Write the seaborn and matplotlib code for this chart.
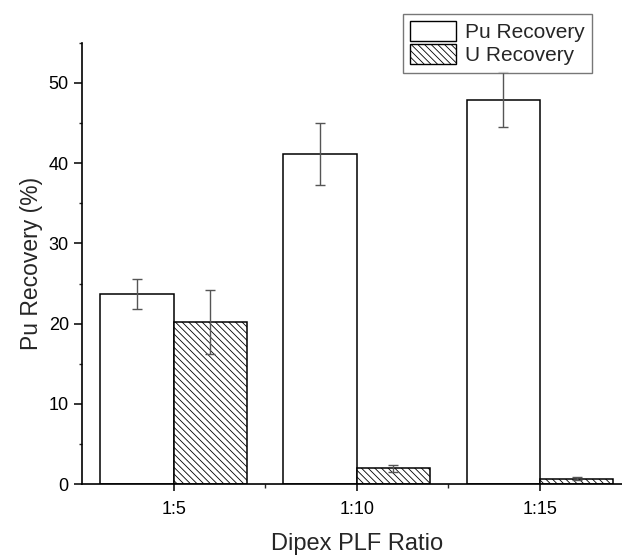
import numpy as np
import pandas as pd
import seaborn as sns
import matplotlib.pyplot as plt
from matplotlib.patches import Patch
from matplotlib.ticker import MultipleLocator, FixedLocator

# values
ratios = ["1:5", "1:10", "1:15"]
pu_recovery = [23.7, 41.1, 47.9]
pu_err = [1.85, 3.85, 3.4]
u_recovery = [20.2, 2.0, 0.7]
u_err = [4.0, 0.45, 0.2]
series = ["Pu Recovery", "U Recovery"]

df = pd.DataFrame({
    "ratio": ratios * 2,
    "value": pu_recovery + u_recovery,
    "err": pu_err + u_err,
    "series": [series[0]] * 3 + [series[1]] * 3,
})

sns.set_style("ticks")
plt.rcParams["font.family"] = ["Liberation Sans", "DejaVu Sans"]
plt.rcParams["hatch.linewidth"] = 0.6

fig = plt.figure(figsize=(6.22, 5.55), dpi=100)
ax = fig.add_axes([0.1318, 0.1274, 0.8835, 0.7957])

sns.barplot(data=df, x="ratio", y="value", hue="series", order=ratios,
            hue_order=series, palette=["white", "white"], edgecolor="black",
            linewidth=1.1, width=0.8, errorbar=None, legend=False, ax=ax)

# hatch for U bars + error bars from bar centres
for cont, s in zip(ax.containers, series):
    sub = df[df["series"] == s].set_index("ratio").loc[ratios]
    xs = []
    for bar in cont:
        xs.append(bar.get_x() + bar.get_width() / 2)
        if s == "U Recovery":
            bar.set_hatch("\\\\\\\\\\")
    ax.errorbar(xs, sub["value"], yerr=sub["err"], fmt="none",
                ecolor="#555555", elinewidth=1.0, capsize=3.3, capthick=1.0,
                zorder=5)

ax.set_xlim(-0.5, 2.5)
ax.set_ylim(0, 55)
ax.yaxis.set_major_locator(MultipleLocator(10))
ax.yaxis.set_minor_locator(MultipleLocator(5))
ax.xaxis.set_minor_locator(FixedLocator([0.5, 1.5]))

sns.despine(ax=ax)
for sp in ["left", "bottom"]:
    ax.spines[sp].set_linewidth(1.2)
    ax.spines[sp].set_color("black")

ax.tick_params(axis="y", which="major", length=5.5, width=1.1, pad=4,
               labelsize=13, colors="black")
ax.tick_params(axis="y", which="minor", length=2.5, width=1.0)
ax.tick_params(axis="x", which="major", length=5, width=1.1, pad=7,
               labelsize=13, colors="black")
ax.tick_params(axis="x", which="minor", length=3, width=1.0)

ax.set_xlabel("Dipex PLF Ratio", fontsize=17, labelpad=11)
ax.set_ylabel("Pu Recovery (%)", fontsize=16.5, labelpad=4)

handles = [Patch(facecolor="white", edgecolor="black", linewidth=1.0),
           Patch(facecolor="white", edgecolor="black", linewidth=1.0,
                 hatch="\\\\\\\\\\")]
leg = fig.legend(handles, series, loc="upper left",
                 bbox_to_anchor=(0.648, 0.975), frameon=True, fancybox=False,
                 fontsize=15, handlelength=2.2, handleheight=1.1,
                 handletextpad=0.4, labelspacing=0.1, borderpad=0.35,
                 borderaxespad=0)
leg.get_frame().set_edgecolor("#555555")
leg.get_frame().set_linewidth(1.0)

fig.savefig("out.png", dpi=100)
